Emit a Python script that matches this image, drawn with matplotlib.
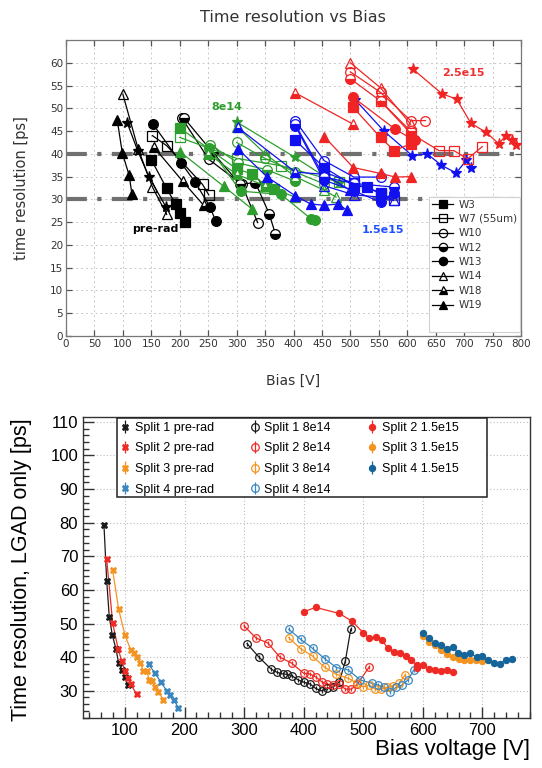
import matplotlib
matplotlib.use("Agg")
import matplotlib.pyplot as plt
from matplotlib.ticker import MultipleLocator
from matplotlib.lines import Line2D
from matplotlib.patches import Rectangle

# ---------------- upper panel: resolution vs bias per wafer and fluence ----------------
PRE_RAD = {
    "W19": ([90, 99, 111, 116], [47.5, 40.2, 35.3, 31.1]),
    "W14": ([100, 127, 152, 177], [53.1, 41.0, 32.7, 26.7]),
    "star": ([108, 126, 146, 176], [46.7, 40.7, 34.9, 28.3]),
    "W18": ([155, 205, 242], [41.4, 34.0, 28.7]),
    "W3": ([150, 177, 193, 201, 209], [38.7, 32.4, 28.9, 27.1, 25.0]),
    "W7": ([152, 177, 240, 251], [44.0, 41.8, 33.3, 31.0]),
    "W13": ([153, 203, 227, 253, 263], [46.5, 37.9, 33.8, 28.4, 25.3]),
    "W10": ([204, 251, 309, 337], [47.8, 38.8, 33.3, 24.9]),
    "W12": ([208, 258, 306, 333, 357, 368], [47.8, 40.3, 33.3, 33.7, 26.9, 22.5]),
}
FLU_8E14 = {
    "W3": ([200, 300, 327, 352, 365], [45.7, 36.7, 35.6, 32.9, 32.2]),
    "W7": ([200, 300, 378, 480], [43.6, 39.0, 37.4, 33.8]),
    "W10": ([300, 350, 403, 454], [42.5, 39.0, 36.0, 33.4]),
    "W12": ([253, 303, 353, 403], [42.0, 38.0, 36.5, 34.0]),
    "W13": ([252, 307, 378, 431, 438], [41.3, 31.8, 31.1, 25.7, 25.4]),
    "W14": ([300, 350, 403, 454, 475], [46.0, 40.0, 35.0, 32.0, 30.5]),
    "W18": ([250, 300, 350, 403], [40.0, 35.5, 33.0, 30.5]),
    "W19": ([200, 277, 327], [40.5, 32.9, 27.9]),
    "star": ([300, 403, 455, 480], [47.0, 39.2, 35.0, 33.5]),
}
FLU_1P5E15 = {
    "W19": ([302, 354, 403, 430, 454, 479, 494], [41.1, 34.9, 30.8, 29.0, 28.7, 29.0, 27.6]),
    "W18": ([302, 403, 454, 500], [45.8, 36.0, 35.5, 32.0]),
    "W10": ([403, 454, 506, 553], [47.3, 38.5, 34.9, 34.9]),
    "W3": ([403, 454, 506, 529, 553], [43.0, 37.0, 33.0, 32.7, 31.2]),
    "W13": ([403, 454, 506, 553, 576], [46.2, 34.2, 31.9, 29.4, 31.5]),
    "W12": ([403, 454, 506, 576], [46.5, 34.9, 33.5, 32.7]),
    "W14": ([454, 506, 553, 576], [33.0, 31.0, 30.5, 29.8]),
    "W7": ([454, 506, 553, 576], [36.0, 33.5, 31.5, 29.8]),
    "star": ([509, 559, 609, 635, 660, 686, 704, 712], [51.8, 45.0, 39.6, 40.0, 37.5, 35.8, 38.6, 37.0]),
}
FLU_2P5E15 = {
    "W18": ([403, 505], [53.4, 46.5]),
    "W14": ([500, 553, 606], [60.0, 54.5, 46.5]),
    "W19": ([454, 505, 553, 579, 606], [43.8, 37.0, 35.7, 34.9, 35.0]),
    "W10": ([500, 553, 606, 632], [58.0, 53.5, 47.3, 47.3]),
    "W12": ([500, 553, 606], [56.5, 51.6, 45.0]),
    "W13": ([505, 579, 606, 614], [52.4, 45.4, 43.4, 43.0]),
    "W3": ([505, 553, 577, 606], [50.2, 43.6, 40.7, 42.2]),
    "W7": ([553, 606, 656, 682, 706, 732], [51.6, 44.5, 40.7, 40.7, 38.9, 41.6]),
    "star": ([610, 661, 687, 712, 739, 761, 773, 784, 792],
             [58.6, 53.2, 52.0, 46.7, 44.7, 42.2, 44.0, 43.1, 42.0]),
}
TOP_GROUPS = [
    (PRE_RAD, "#000000"),
    (FLU_8E14, "#2e9e2e"),
    (FLU_1P5E15, "#1010f0"),
    (FLU_2P5E15, "#f02424"),
]
WAFER_LEGEND = ["W3", "W7", "W10", "W12", "W13", "W14", "W18", "W19"]
WAFER_LABELS = ["W3", "W7 (55um)", "W10", "W12", "W13", "W14", "W18", "W19"]
TARGET_LINES = [40, 30]

STYLE = {
    "W3": ("s", "full"), "W7": ("s", "none"), "W10": ("o", "none"),
    "W12": ("o", "bottom"), "W13": ("o", "full"), "W14": ("^", "none"),
    "W18": ("^", "bottom"), "W19": ("^", "full"), "star": ("*", "full"),
}

# ---------------- lower panel: LGAD-only resolution per split ----------------
S1_PRE_V = [64.7, 69.3, 73.6, 78.7, 84.9, 89.4, 95, 100, 104.5]
S1_PRE_R = [79.3, 62.7, 52.0, 46.6, 42.4, 38.2, 36.2, 34.0, 31.7]
S2_PRE_V = [69.3, 79.3, 88.7, 94.5, 100, 104.5, 109.6, 119.6]
S2_PRE_R = [69.1, 50.2, 42.3, 38.9, 36.0, 33.7, 31.9, 29.0]
S3_PRE_V = [79.3, 89.4, 100, 109.6, 115.1, 119.6, 125.2, 130.7, 136.4, 140.8, 145.3, 150.4, 155.9, 164.3]
S3_PRE_R = [65.9, 54.2, 46.6, 42.1, 41.1, 40.1, 38.4, 36.0, 36.0, 33.2, 33.0, 31.2, 29.7, 27.4]
S4_PRE_V = [139.8, 150.4, 159.9, 170, 175.6, 182.3, 189.5]
S4_PRE_R = [37.9, 35.2, 32.7, 30.0, 28.7, 27.2, 25.0]

S1_8E14_V = [305, 325, 345, 355, 365, 372, 381, 391, 401, 411, 420, 430, 440, 450, 460, 470, 479]
S1_8E14_R = [44.0, 40.0, 36.5, 35.5, 35.0, 34.9, 34.4, 33.2, 32.5, 32.0, 30.7, 30.0, 30.7, 31.2, 32.7, 38.9, 48.3]
S2_8E14_V = [300, 320, 340, 360, 380, 400, 410, 420, 430, 440, 450, 460, 470, 480, 490, 510]
S2_8E14_R = [49.3, 45.7, 44.2, 40.0, 38.2, 35.2, 35.0, 34.2, 32.7, 31.9, 31.7, 31.9, 30.5, 30.5, 31.9, 37.1]
S3_8E14_V = [375, 395, 415, 435, 455, 475, 490, 500, 510, 520, 530, 540, 550, 560, 570]
S3_8E14_R = [45.8, 42.5, 40.3, 37.0, 34.9, 33.7, 32.2, 31.2, 31.7, 30.5, 30.5, 31.0, 31.5, 32.2, 34.7]
S4_8E14_V = [375, 395, 415, 435, 455, 475, 495, 515, 525, 535, 545, 555, 565, 575, 585]
S4_8E14_R = [48.3, 45.3, 42.6, 39.6, 36.9, 36.2, 33.2, 32.2, 31.7, 31.0, 29.7, 31.0, 31.7, 33.2, 36.2]

S2_1P5_V = [400, 420, 460, 481, 500, 510, 521, 531, 541, 551, 561, 571, 580, 590, 590, 600, 610, 621, 631, 640, 650]
S2_1P5_R = [53.5, 54.8, 53.0, 50.7, 47.3, 45.6, 46.1, 45.1, 42.8, 41.6, 41.3, 40.3, 39.3, 37.6, 36.9, 37.6, 36.4, 36.2, 35.9, 36.2, 35.7]
S3_1P5_V = [600, 610, 620, 630, 640, 650, 660, 670, 680, 690, 700]
S3_1P5_R = [46.3, 44.5, 43.6, 42.2, 40.8, 39.9, 39.6, 39.2, 39.1, 39.1, 38.9]
S4_1P5_V = [600, 610.5, 620.6, 630.7, 640.2, 650.3, 659.8, 669.9, 679.4, 690.6, 700.1, 710.2, 720.3, 729.8, 739.8, 750.5]
S4_1P5_R = [47.1, 45.8, 44.1, 43.6, 42.3, 42.9, 41.3, 40.6, 41.3, 39.9, 40.3, 39.1, 38.3, 38.1, 39.3, 39.5]

ERR = 0.6  # half-height of the vertical uncertainty bars [ps]

BLACK, RED, ORANGE, BLUE, DBLUE = "#1a1a1a", "#ee2a24", "#f39422", "#3a87c0", "#15649a"

BOTTOM_SERIES = [
    (S1_PRE_V, S1_PRE_R, BLACK, "X", "Split 1 pre-rad"),
    (S2_PRE_V, S2_PRE_R, RED, "X", "Split 2 pre-rad"),
    (S3_PRE_V, S3_PRE_R, ORANGE, "X", "Split 3 pre-rad"),
    (S4_PRE_V, S4_PRE_R, BLUE, "X", "Split 4 pre-rad"),
    (S1_8E14_V, S1_8E14_R, BLACK, "o_open", "Split 1 8e14"),
    (S2_8E14_V, S2_8E14_R, RED, "o_open", "Split 2 8e14"),
    (S3_8E14_V, S3_8E14_R, ORANGE, "o_open", "Split 3 8e14"),
    (S4_8E14_V, S4_8E14_R, BLUE, "o_open", "Split 4 8e14"),
    (S2_1P5_V, S2_1P5_R, RED, "o", "Split 2 1.5e15"),
    (S3_1P5_V, S3_1P5_R, ORANGE, "o", "Split 3 1.5e15"),
    (S4_1P5_V, S4_1P5_R, DBLUE, "o", "Split 4 1.5e15"),
]

fig = plt.figure(figsize=(5.42, 7.68), dpi=100)
W, H = 542.0, 768.0


def px_box(x0, y0, x1, y1, **kw):
    """Rectangle given in pixel corners (top-left origin), drawn in figure space."""
    return Rectangle((x0 / W, 1 - y1 / H), (x1 - x0) / W, (y1 - y0) / H,
                     transform=fig.transFigure, fill=True, clip_on=False, **kw)


# ======================= upper panel =======================
ax = fig.add_axes([66 / W, 1 - 336 / H, (521 - 66) / W, (336 - 40) / H])
ax.set_xlim(0, 800)
ax.set_ylim(0, 65)
ax.set_xticks(range(0, 801, 50))
ax.set_yticks(range(0, 61, 5))
ax.grid(True, color="#c8c8c8", linestyle=(0, (2, 3)), linewidth=0.7)
ax.set_axisbelow(True)
ax.tick_params(direction="in", top=True, right=True, length=4, width=0.9,
               color="#555555", labelcolor="#333333", labelsize=7.5, pad=2)
for sp in ax.spines.values():
    sp.set_color("#777777")
    sp.set_linewidth(0.9)

for y in TARGET_LINES:
    ax.axhline(y, color="#707070", lw=3, dashes=(5, 2.5, 1, 2.5), zorder=1.5)

for group, col in TOP_GROUPS:
    for wafer, (v, r) in group.items():
        m, fs = STYLE[wafer]
        ax.plot(v, r, color=col, lw=0.9, marker=m, fillstyle=fs,
                markerfacecoloralt="white", ms=7 if m != "*" else 8,
                mew=0.9, zorder=3)

ax.text(157, 23.6, "pre-rad", color="black", fontsize=8, fontweight="bold",
        ha="center", va="center")
ax.text(283, 50.3, "8e14", color="#2e9e2e", fontsize=8, fontweight="bold",
        ha="center", va="center")
ax.text(558, 23.2, "1.5e15", color="#2050ff", fontsize=8, fontweight="bold",
        ha="center", va="center")
ax.text(699, 57.8, "2.5e15", color="#f03030", fontsize=8, fontweight="bold",
        ha="center", va="center")

# wafer key with its own light frame
ax.add_patch(px_box(429, 197, 520, 332, facecolor="white",
                    edgecolor="#d0d0d0", linewidth=0.8, zorder=4))
handles = []
for wafer in WAFER_LEGEND:
    m, fs = STYLE[wafer]
    handles.append(Line2D([], [], color="black", lw=0.9, marker=m, fillstyle=fs,
                          markerfacecoloralt="white", ms=6, mew=0.9))
leg = ax.legend(handles, WAFER_LABELS, loc="upper left",
                bbox_to_anchor=((430 - 66) / 455, (336 - 198) / 296),
                borderaxespad=0, fontsize=7.5, frameon=False,
                handlelength=2.1, handletextpad=0.5, labelspacing=0.42,
                borderpad=0.15)
leg.set_zorder(5)
for t in leg.get_texts():
    t.set_color("#333333")

fig.text(293 / W, 1 - 17 / H, "Time resolution vs Bias", ha="center", va="center",
         fontsize=11.5, color="#333333")
fig.text(293 / W, 1 - 381 / H, "Bias [V]", ha="center", va="center",
         fontsize=10, color="#333333")
fig.text(22 / W, 1 - 188 / H, "time resolution [ps]", ha="center", va="center",
         rotation=90, fontsize=10.5, color="#333333")

# ======================= lower panel =======================
ax2 = fig.add_axes([83 / W, 1 - 718 / H, (530 - 83) / W, (718 - 416.5) / H])
ax2.set_xlim(29.5, 780)
ax2.set_ylim(21.9, 111.6)
ax2.xaxis.set_major_locator(MultipleLocator(100))
ax2.xaxis.set_minor_locator(MultipleLocator(20))
ax2.yaxis.set_major_locator(MultipleLocator(10))
ax2.yaxis.set_minor_locator(MultipleLocator(2))
ax2.grid(True, which="major", color="#bbbbbb", linestyle=(0, (1, 2)), linewidth=0.8)
ax2.set_axisbelow(True)
ax2.tick_params(which="both", direction="in", top=False, right=False, width=1.0,
                color="#333333", labelsize=12, labelcolor="black")
ax2.tick_params(which="major", length=8)
ax2.tick_params(which="minor", length=4)
for lab in ax2.get_xticklabels() + ax2.get_yticklabels():
    lab.set_family("Liberation Sans")
for sp in ax2.spines.values():
    sp.set_color("#333333")
    sp.set_linewidth(1.0)

for v, r, col, mk, lab in BOTTOM_SERIES:
    if mk == "o_open":
        kw = dict(marker="o", mfc="none", mec=col, ms=5.5, mew=0.9)
    elif mk == "o":
        kw = dict(marker="o", mfc=col, mec=col, ms=4.5, mew=0.8)
    else:
        kw = dict(marker="X", mfc=col, mec=col, ms=4.5, mew=0.6)
    # connecting line, then the points with their vertical uncertainty bars
    ax2.plot(v, r, color=col, lw=0.9, zorder=2)
    ax2.errorbar(v, r, yerr=ERR, color=col, ls="none", elinewidth=0.9,
                 capsize=0, label=lab, zorder=3, **kw)

# split key: frame drawn separately so it keeps the wide right margin
ax2.add_patch(px_box(116.5, 417.5, 487, 496.5, facecolor="white",
                     edgecolor="#222222", linewidth=1.1, zorder=4))
leg2 = ax2.legend(loc="upper left",
                  bbox_to_anchor=((118.5 - 83) / 447, (718 - 422) / 301.5),
                  borderaxespad=0, ncol=3,
                  prop={"family": "Liberation Sans", "size": 9}, frameon=False,
                  handlelength=1.0, handletextpad=0.3, columnspacing=2.75,
                  labelspacing=0.68, borderpad=0.0)
leg2.set_zorder(5)

fig.text(530 / W, 1 - 750 / H, "Bias voltage [V]", ha="right", va="center",
         fontsize=16, family="Liberation Sans")
fig.text(22 / W, 1 - 418 / H, "Time resolution, LGAD only [ps]", ha="center",
         va="top", rotation=90, fontsize=15.5, family="Liberation Sans")

fig.savefig("out.png", dpi=100)
